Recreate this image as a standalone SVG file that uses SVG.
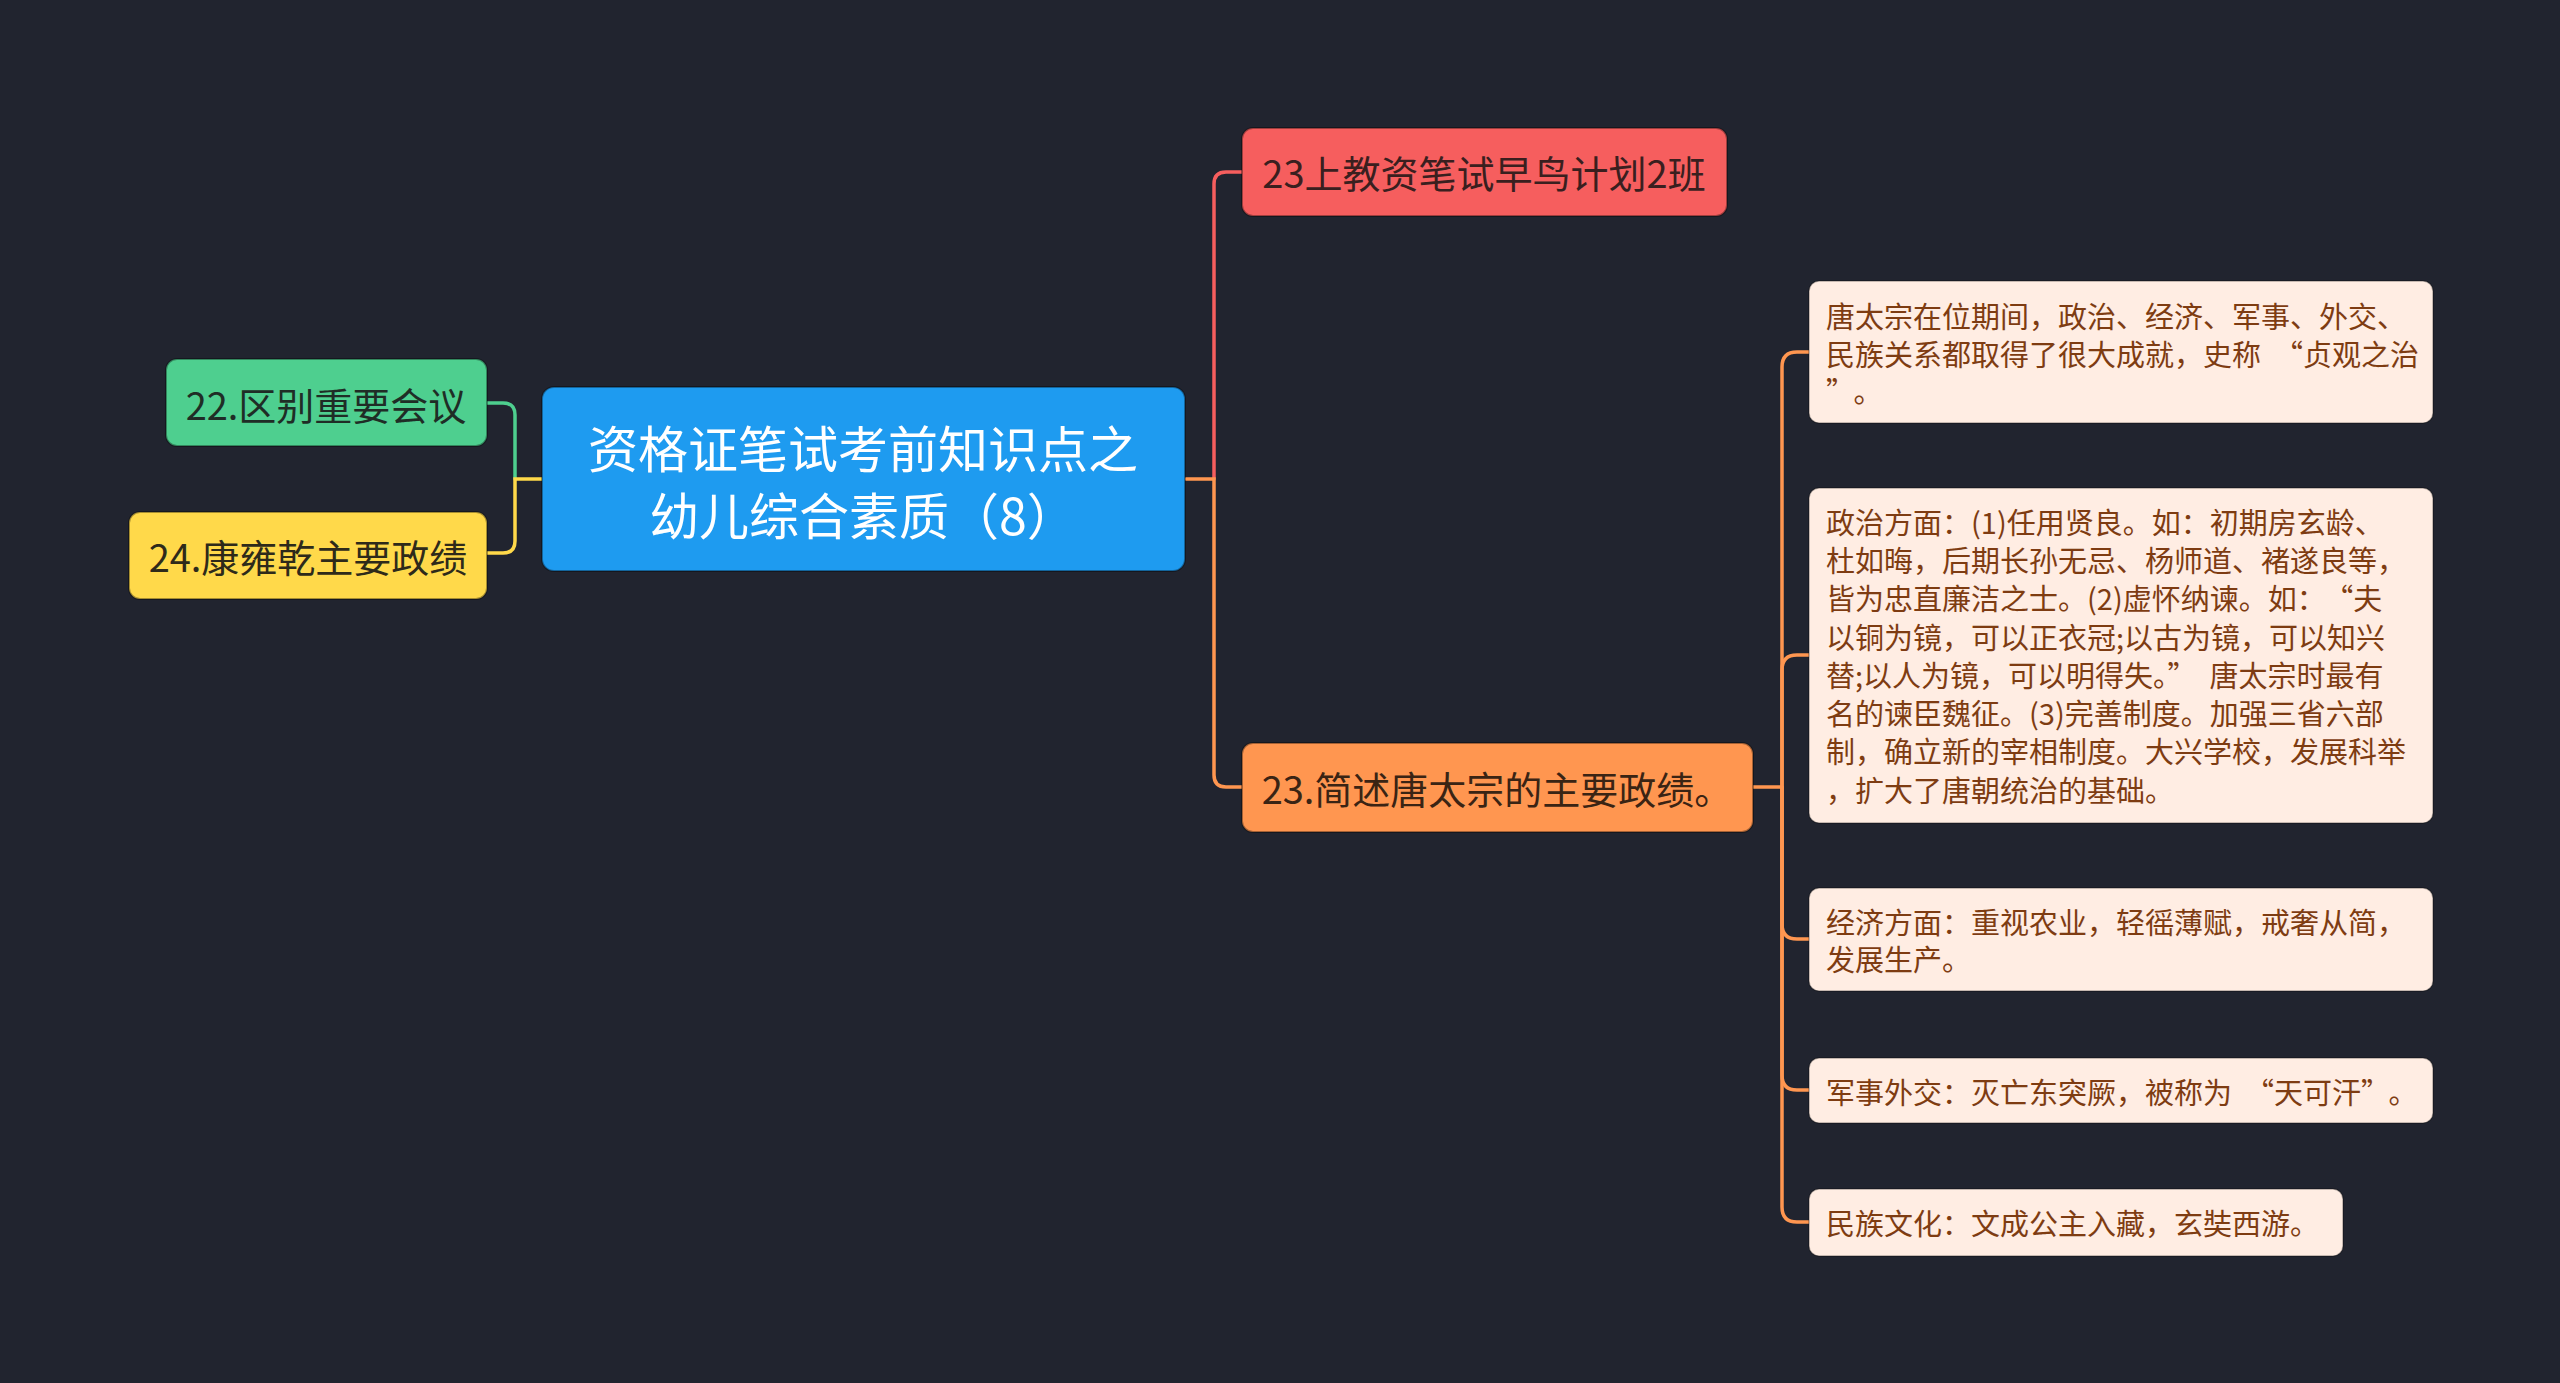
<svg xmlns="http://www.w3.org/2000/svg" width="2560" height="1383" viewBox="0 0 2560 1383">
<style>
.t{font-family:"Noto Sans CJK SC","Noto Sans",sans-serif;dominant-baseline:central}
.node{stroke:rgba(0,0,0,0.35);stroke-width:2}
.leaf{fill:#ffede3;stroke:rgba(0,0,0,0.3);stroke-width:1.5}
.lt{font-size:29px;fill:#7e3c12}
.mt{font-size:38px;text-anchor:middle}
.c{fill:none;stroke-width:3.5;stroke-linecap:round}
</style>
<rect width="2560" height="1383" fill="#21242f"/>
<g id="connectors">
<path class="c" stroke="#4ecf8f" d="M487,403 H503 Q515,403 515,415 V479"/>
<path class="c" stroke="#ffd94a" d="M542,479 H515 V541 Q515,553 503,553 H487"/>
<path class="c" stroke="#f65e5e" d="M1214,479 V184 Q1214,172 1226,172 H1242"/>
<path class="c" stroke="#ff9650" d="M1186,479 H1214 V775 Q1214,787 1226,787 H1242"/>
<path class="c" stroke="#ff9650" d="M1753,787 H1782 V367 Q1782,352 1797,352 H1809"/>
<path class="c" stroke="#ff9650" d="M1782,787 V670 Q1782,655 1797,655 H1809"/>
<path class="c" stroke="#ff9650" d="M1782,787 V924 Q1782,939 1797,939 H1809"/>
<path class="c" stroke="#ff9650" d="M1782,787 V1075 Q1782,1090 1797,1090 H1809"/>
<path class="c" stroke="#ff9650" d="M1782,787 V1207 Q1782,1222 1797,1222 H1809"/>
</g>
<g id="root">
<rect class="node" x="542" y="387" width="643" height="184" rx="12" fill="#1e9bf0"/>
<text class="t" x="863" y="446" font-size="50" fill="#ffffff" text-anchor="middle">资格证笔试考前知识点之</text>
<text class="t" x="863" y="513" font-size="50" fill="#ffffff" text-anchor="middle">幼儿综合素质（8）</text>
</g>
<g id="n22">
<rect class="node" x="166" y="359" width="321" height="87" rx="11" fill="#4ecf8f"/>
<text class="t mt" x="326" y="403" fill="#1f2d26">22.区别重要会议</text>
</g>
<g id="n24">
<rect class="node" x="129" y="512" width="358" height="87" rx="11" fill="#ffd94a"/>
<text class="t mt" x="308" y="555" fill="#2e2a1a">24.康雍乾主要政绩</text>
</g>
<g id="n23a">
<rect class="node" x="1242" y="128" width="485" height="88" rx="11" fill="#f65e5e"/>
<text class="t mt" x="1484" y="171" fill="#3a1f1f">23上教资笔试早鸟计划2班</text>
</g>
<g id="n23b">
<rect class="node" x="1242" y="743" width="511" height="89" rx="11" fill="#ff9650"/>
<text class="t mt" x="1497" y="787" fill="#3a2414">23.简述唐太宗的主要政绩。</text>
</g>
<g id="leaf1">
<rect class="leaf" x="1809" y="281" width="624" height="142" rx="10"/>
<text class="t lt" x="1826" y="315">唐太宗在位期间，政治、经济、军事、外交、</text>
<text class="t lt" x="1826" y="353">民族关系都取得了很大成就，史称<tspan dx="13">“</tspan>贞观之治</text>
<text class="t lt" x="1826" y="390">”<tspan dx="13">。</tspan></text>
</g>
<g id="leaf2">
<rect class="leaf" x="1809" y="488" width="624" height="335" rx="10"/>
<text class="t lt" x="1826" y="521">政治方面：(1)任用贤良。如：初期房玄龄、</text>
<text class="t lt" x="1826" y="559">杜如晦，后期长孙无忌、杨师道、褚遂良等，</text>
<text class="t lt" x="1826" y="597">皆为忠直廉洁之士。(2)虚怀纳谏。如：<tspan dx="13">“</tspan>夫</text>
<text class="t lt" x="1826" y="636">以铜为镜，可以正衣冠;以古为镜，可以知兴</text>
<text class="t lt" x="1826" y="674">替;以人为镜，可以明得失。”<tspan dx="13">唐</tspan>太宗时最有</text>
<text class="t lt" x="1826" y="712">名的谏臣魏征。(3)完善制度。加强三省六部</text>
<text class="t lt" x="1826" y="750">制，确立新的宰相制度。大兴学校，发展科举</text>
<text class="t lt" x="1826" y="789">，扩大了唐朝统治的基础。</text>
</g>
<g id="leaf3">
<rect class="leaf" x="1809" y="888" width="624" height="103" rx="10"/>
<text class="t lt" x="1826" y="921">经济方面：重视农业，轻徭薄赋，戒奢从简，</text>
<text class="t lt" x="1826" y="958">发展生产。</text>
</g>
<g id="leaf4">
<rect class="leaf" x="1809" y="1058" width="624" height="65" rx="10"/>
<text class="t lt" x="1826" y="1091">军事外交：灭亡东突厥，被称为<tspan dx="13">“</tspan>天可汗”<tspan dx="13">。</tspan></text>
</g>
<g id="leaf5">
<rect class="leaf" x="1809" y="1189" width="534" height="67" rx="10"/>
<text class="t lt" x="1826" y="1222">民族文化：文成公主入藏，玄奘西游。</text>
</g>
</svg>
